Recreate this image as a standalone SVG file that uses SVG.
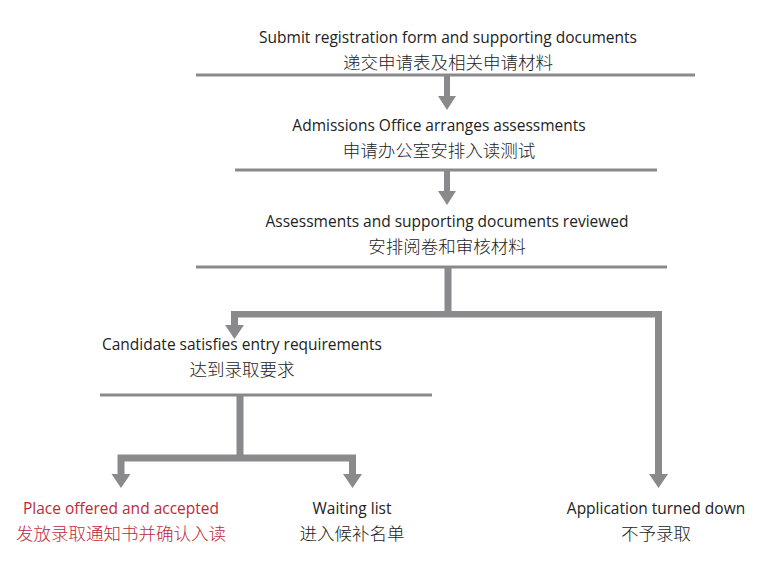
<svg xmlns="http://www.w3.org/2000/svg" width="770" height="573" viewBox="0 0 770 573">
<style>
text{font-family:"Open Sans","Noto Sans CJK SC",sans-serif;font-size:15.5px;fill:#222;text-anchor:middle}
.zh{font-family:"Noto Sans CJK SC",sans-serif;font-size:17.5px;font-weight:300}
.red{fill:#c0283a}
.thin{stroke:#8a8a8d;stroke-width:3;fill:none}
</style>
<g id="n1"><text x="448" y="43">Submit registration form and supporting documents</text><text class="zh" x="448" y="69">递交申请表及相关申请材料</text></g>
<g id="n2"><text x="439" y="131">Admissions Office arranges assessments</text><text class="zh" x="439" y="157">申请办公室安排入读测试</text></g>
<g id="n3"><text x="447" y="227">Assessments and supporting documents reviewed</text><text class="zh" x="447" y="253">安排阅卷和审核材料</text></g>
<g id="n4"><text x="242" y="350">Candidate satisfies entry requirements</text><text class="zh" x="242" y="376">达到录取要求</text></g>
<g id="n5"><text class="red" x="121" y="514">Place offered and accepted</text><text class="zh red" x="121" y="540">发放录取通知书并确认入读</text></g>
<g id="n6"><text x="352" y="514">Waiting list</text><text class="zh" x="352" y="540">进入候补名单</text></g>
<g id="n7"><text x="656" y="514">Application turned down</text><text class="zh" x="656" y="540">不予录取</text></g>
<g id="connectors">
<line class="thin" x1="196" y1="75" x2="695" y2="75"/>
<line class="thin" x1="235" y1="170" x2="657" y2="170"/>
<line class="thin" x1="196" y1="267" x2="667" y2="267"/>
<line class="thin" x1="100" y1="395" x2="432" y2="395"/>
<g fill="#8a8a8d">
<path d="M444,76V96H438L447,110L456,96H450V76Z"/>
<path d="M444,171V191H438L447,205L456,191H450V171Z"/>
<path d="M444.5,268V311H231V325H225L234.5,339L244,325H238V317.5H655V474H649L658.5,488L668,474H662V311H451.5V268Z"/>
<path d="M236.5,396V454.5H117.5V474H111.5L121,488L130.5,474H124.5V461.5H349V474H343L352.5,488L362,474H356V454.5H243.5V396Z"/>
</g>
</g>
</svg>
